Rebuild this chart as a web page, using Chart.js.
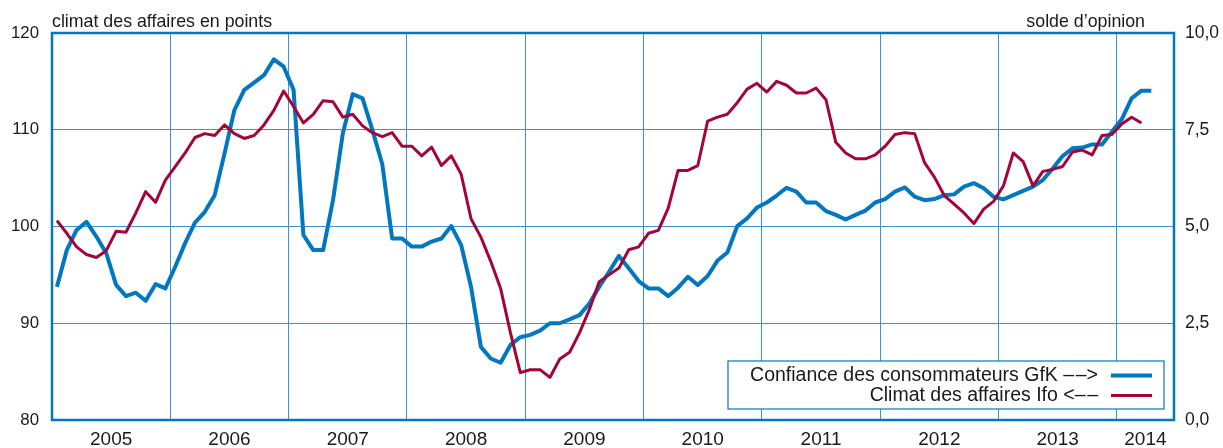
<!DOCTYPE html>
<html lang="fr">
<head>
<meta charset="utf-8">
<script src="https://cdn.jsdelivr.net/npm/chart.js@4"></script>
<style>
  html, body { margin: 0; padding: 0; background: #fff; }
  #cadre { width: 1223px; height: 448px; }
</style>
</head>
<body>
<div id="cadre"><canvas id="graphique"></canvas></div>
<script>
// Années affichées sous l'axe (janvier 2005 -> avril 2014, données mensuelles)
const annees = ['2005', '2006', '2007', '2008', '2009', '2010', '2011', '2012', '2013', '2014'];

// Climat des affaires Ifo (axe de gauche, en points)
const climatIfo = [
  100.6, 99.3, 97.9, 97.1, 96.8, 97.5, 99.5, 99.4, 101.4, 103.6, 102.5, 104.8,
  106.2, 107.6, 109.2, 109.6, 109.4, 110.5, 109.6, 109.1, 109.4, 110.5, 112.0, 114.0,
  112.4, 110.7, 111.6, 113.0, 112.9, 111.3, 111.6, 110.4, 109.7, 109.3, 109.7, 108.3,
  108.3, 107.3, 108.2, 106.3, 107.3, 105.4, 100.8, 98.9, 96.4, 93.6, 89.0, 84.9,
  85.2, 85.2, 84.4, 86.3, 87.0, 89.0, 91.4, 94.3, 95.0, 95.7, 97.6, 97.9,
  99.3, 99.6, 101.9, 105.8, 105.8, 106.3, 110.9, 111.3, 111.6, 112.8, 114.2, 114.8,
  113.9, 115.0, 114.6, 113.8, 113.8, 114.3, 113.1, 108.7, 107.6, 107.0, 107.0, 107.4,
  108.3, 109.5, 109.7, 109.6, 106.6, 105.1, 103.2, 102.3, 101.4, 100.3, 101.8, 102.6,
  104.2, 107.6, 106.7, 104.2, 105.7, 105.9, 106.2, 107.7, 107.9, 107.4, 109.4, 109.5,
  110.6, 111.3, 110.7, null
];

// Confiance des consommateurs GfK (axe de droite, solde d'opinion)
const confianceGfk = [
  3.44, 4.39, 4.91, 5.12, 4.74, 4.31, 3.49, 3.20, 3.29, 3.08, 3.51, 3.40,
  3.96, 4.57, 5.10, 5.38, 5.81, 6.89, 8.01, 8.53, 8.72, 8.91, 9.32, 9.13,
  8.53, 4.78, 4.39, 4.39, 5.68, 7.41, 8.42, 8.31, 7.49, 6.61, 4.69, 4.69,
  4.48, 4.48, 4.61, 4.69, 5.01, 4.52, 3.44, 1.89, 1.59, 1.48, 1.94, 2.14,
  2.20, 2.31, 2.50, 2.50, 2.60, 2.71, 3.01, 3.44, 3.83, 4.24, 3.92, 3.59,
  3.40, 3.40, 3.20, 3.42, 3.70, 3.49, 3.72, 4.12, 4.33, 5.01, 5.21, 5.49,
  5.62, 5.80, 6.00, 5.90, 5.62, 5.62, 5.40, 5.30, 5.18, 5.30, 5.41, 5.62,
  5.71, 5.90, 6.01, 5.77, 5.68, 5.71, 5.81, 5.83, 6.03, 6.12, 5.99, 5.77,
  5.70, 5.81, 5.92, 6.03, 6.20, 6.50, 6.82, 7.02, 7.04, 7.12, 7.12, 7.45,
  7.77, 8.31, 8.51, 8.51
];

// Libellés de la légende
const legendeGfk = 'Confiance des consommateurs GfK \u2013\u200a\u2013>';
const legendeIfo = 'Climat des affaires Ifo <\u2013\u200a\u2013';

const BLEU = '#0077be';
const ROUGE = '#a0063c';
const GRILLE = '#3d92d2';
const TEXTE = '#1a1a1a';
const POLICE = '"Liberation Sans", Arial, Helvetica, sans-serif';

const finAxe = 113.8; // fin de l'axe en mois depuis janvier 2005

// Cadre, titres d'axes et légende dessinés à la main
const decor = {
  id: 'decor',
  afterDraw(chart) {
    const { ctx, chartArea: a } = chart;
    ctx.save();
    ctx.strokeStyle = BLEU;
    ctx.lineWidth = 2.5;
    ctx.strokeRect(a.left, a.top, a.right - a.left, a.bottom - a.top);

    ctx.fillStyle = TEXTE;
    ctx.font = '17.8px ' + POLICE;
    ctx.textBaseline = 'alphabetic';
    ctx.textAlign = 'left';
    ctx.fillText('climat des affaires en points', a.left, 26.5);
    ctx.textAlign = 'right';
    ctx.fillText('solde d\u2019opinion', 1145, 26.5);

    // boîte de légende
    const bx = 728, by = 361, bw = 436, bh = 48;
    ctx.fillStyle = '#fff';
    ctx.fillRect(bx, by, bw, bh);
    ctx.strokeStyle = BLEU;
    ctx.lineWidth = 1.2;
    ctx.strokeRect(bx, by, bw, bh);

    ctx.fillStyle = TEXTE;
    ctx.font = '19.5px ' + POLICE;
    ctx.textAlign = 'right';
    ctx.textBaseline = 'alphabetic';
    ctx.fillText(legendeGfk, 1098, 381);
    ctx.fillText(legendeIfo, 1098, 401);

    ctx.lineCap = 'butt';
    ctx.strokeStyle = BLEU;
    ctx.lineWidth = 4;
    ctx.beginPath(); ctx.moveTo(1111, 375.5); ctx.lineTo(1152, 375.5); ctx.stroke();
    ctx.strokeStyle = ROUGE;
    ctx.lineWidth = 3;
    ctx.beginPath(); ctx.moveTo(1111, 395.5); ctx.lineTo(1152, 395.5); ctx.stroke();
    ctx.restore();
  }
};

const ctx = document.getElementById('graphique').getContext('2d');
new Chart(ctx, {
  type: 'line',
  data: {
    datasets: [
      {
        label: legendeIfo,
        data: climatIfo.map((v, i) => ({ x: i + 0.5, y: v })),
        yAxisID: 'yIfo',
        borderColor: ROUGE,
        borderWidth: 3,
        pointRadius: 0,
        tension: 0,
        borderJoinStyle: 'round'
      },
      {
        label: legendeGfk,
        data: confianceGfk.map((v, i) => ({ x: i + 0.5, y: v })),
        yAxisID: 'yGfk',
        borderColor: BLEU,
        borderWidth: 4,
        pointRadius: 0,
        tension: 0,
        borderJoinStyle: 'round'
      }
    ]
  },
  options: {
    responsive: true,
    maintainAspectRatio: false,
    animation: false,
    layout: { padding: { top: 33, left: 0, right: 0, bottom: 0 } },
    plugins: {
      legend: { display: false },
      tooltip: { enabled: false }
    },
    scales: {
      x: {
        type: 'linear',
        min: 0,
        max: finAxe,
        afterBuildTicks(axis) {
          const t = [];
          annees.forEach((a, k) => {
            const debut = k * 12;
            const fin = Math.min(debut + 12, finAxe);
            if (k > 0) t.push({ value: debut });
            t.push({ value: (debut + fin) / 2 });
          });
          axis.ticks = t;
        },
        afterFit(axis) { axis.height = 28; },
        border: { display: false },
        grid: {
          drawTicks: false,
          lineWidth: 1,
          color: c => (c.tick && c.tick.value % 12 === 0) ? GRILLE : 'transparent'
        },
        ticks: {
          autoSkip: false,
          maxRotation: 0,
          padding: 8,
          color: TEXTE,
          font: { family: POLICE, size: 19 },
          callback: v => (v % 12 === 0) ? '' : annees[Math.floor(v / 12)]
        }
      },
      yIfo: {
        position: 'left',
        min: 80,
        max: 120,
        afterFit(axis) { axis.width = 52; },
        border: { display: false },
        grid: { drawTicks: false, color: GRILLE, lineWidth: 1 },
        ticks: {
          stepSize: 10,
          padding: 13,
          color: TEXTE,
          font: { family: POLICE, size: 16.8 }
        }
      },
      yGfk: {
        position: 'right',
        min: 0,
        max: 10,
        afterFit(axis) { axis.width = 49; },
        border: { display: false },
        grid: { display: false, drawTicks: false },
        ticks: {
          stepSize: 2.5,
          padding: 11,
          color: TEXTE,
          font: { family: POLICE, size: 17.5 },
          callback: v => v.toFixed(1).replace('.', ',')
        }
      }
    }
  },
  plugins: [decor]
});
</script>
</body>
</html>
